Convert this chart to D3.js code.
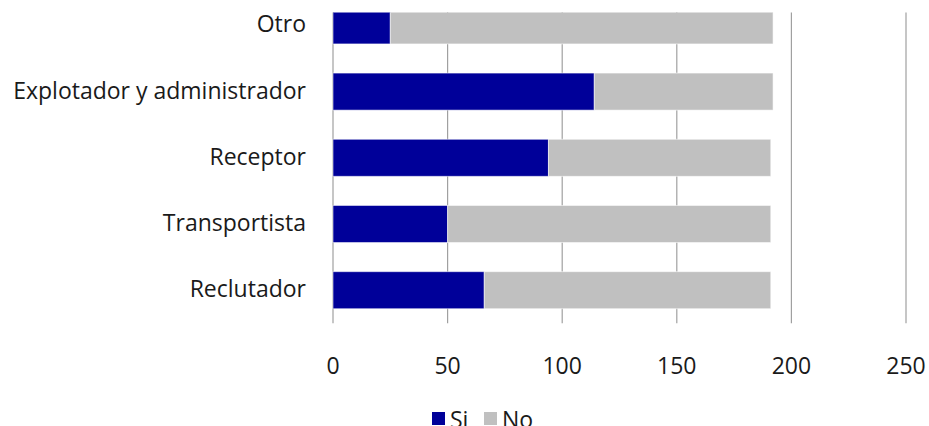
<!DOCTYPE html>
<html>
<head>
<meta charset="utf-8">
<script src="https://cdn.jsdelivr.net/npm/d3@7"></script>
<style>
  html, body { margin: 0; padding: 0; background: #fff; }
  svg { display: block; font-family: "Open Sans", sans-serif; }
</style>
</head>
<body>
<script>
const categories = ['Otro', 'Explotador y administrador', 'Receptor', 'Transportista', 'Reclutador'],
  si = [25, 114, 94, 50, 66],
  no = [167, 78, 97, 141, 125],
  seriesNames = ['Si', 'No'],
  ticks = [0, 50, 100, 150, 200, 250];

const colors = ['#000099', '#c0c0c0'],
  width = 929,
  height = 426,
  fontSize = 23,
  plot = { left: 333, right: 906, top: 12.5, bottom: 323.3 };

const svg = d3.select('body')
              .append('svg')
              .attr('width', width)
              .attr('height', height);

const x = d3.scaleLinear()
            .domain([0, 250])
            .range([plot.left, plot.right]);

// the original is cut off at the top, so the band range starts above the plot
const y = d3.scaleBand()
            .domain(categories)
            .range([-7.7, plot.bottom])
            .paddingInner(0.44)
            .paddingOuter(0.22);

svg.append('clipPath')
   .attr('id', 'plot-clip')
   .append('rect')
   .attr('x', 0)
   .attr('y', plot.top)
   .attr('width', width)
   .attr('height', plot.bottom - plot.top);

// gridlines
svg.append('g')
   .selectAll('line')
   .data(ticks)
   .enter().append('line')
   .attr('x1', d => x(d))
   .attr('x2', d => x(d))
   .attr('y1', plot.top)
   .attr('y2', plot.bottom)
   .attr('stroke', '#a0a0a0')
   .attr('stroke-width', 1.2);

const rows = categories.map((c, i) => ({ cat: c, Si: si[i], No: no[i] }));
const stacked = d3.stack().keys(seriesNames)(rows);

svg.append('g')
   .attr('clip-path', 'url(#plot-clip)')
   .selectAll('g')
   .data(stacked)
   .enter().append('g')
   .attr('fill', (d, i) => colors[i])
   .selectAll('rect')
   .data(d => d)
   .enter().append('rect')
   .attr('x', d => x(d[0]))
   .attr('y', d => y(d.data.cat))
   .attr('width', d => x(d[1]) - x(d[0]))
   .attr('height', y.bandwidth())
   .attr('stroke', 'rgba(255,255,255,0.55)')
   .attr('stroke-width', 1);

// category labels
svg.append('g')
   .selectAll('text')
   .data(categories)
   .enter().append('text')
   .attr('x', plot.left - 27)
   .attr('y', d => y(d) + y.bandwidth() / 2)
   .attr('dy', '0.3em')
   .attr('text-anchor', 'end')
   .attr('font-size', fontSize)
   .attr('fill', '#1a1a1a')
   .text(d => d);

// value tick labels
svg.append('g')
   .selectAll('text')
   .data(ticks)
   .enter().append('text')
   .attr('x', d => x(d))
   .attr('y', 373.5)
   .attr('text-anchor', 'middle')
   .attr('font-size', fontSize)
   .attr('fill', '#1a1a1a')
   .text(d => d);

// legend (cut off at the bottom edge, as in the original)
const legend = svg.append('g')
                  .selectAll('g')
                  .data(seriesNames)
                  .enter().append('g')
                  .attr('transform', (d, i) => `translate(${[432, 484][i]},412)`);

legend.append('rect')
      .attr('width', 13)
      .attr('height', 13)
      .attr('fill', (d, i) => colors[i]);

legend.append('text')
      .attr('x', 18)
      .attr('y', 16)
      .attr('font-size', fontSize)
      .attr('fill', '#1a1a1a')
      .text(d => d);
</script>
</body>
</html>
